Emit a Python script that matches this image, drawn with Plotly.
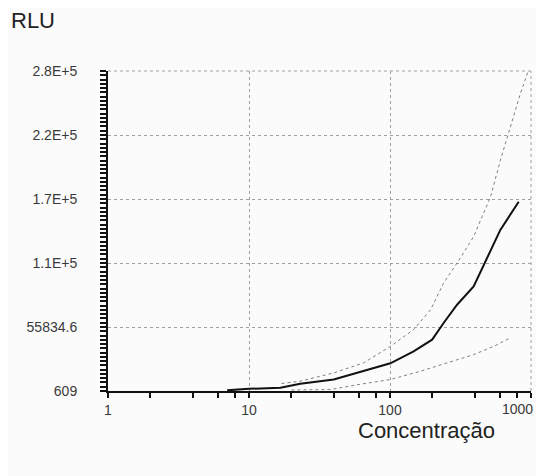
import plotly.graph_objects as go

# values
conc_mid = [7, 10, 16.7, 23.1, 39.9, 65.1, 100.6, 147, 199, 240, 299, 392, 488, 606, 818]
rlu_mid = [1200, 2500, 3360, 6800, 10500, 17650, 24500, 34860, 44930, 59310, 75060,
           90810, 115250, 139610, 163970]

conc_hi = [17, 23.1, 39.9, 65.1, 100.6, 147, 194, 240, 315, 392, 450, 517, 607, 695, 841, 948]
rlu_hi = [7060, 9040, 16270, 24880, 39170, 53540, 70760, 93740, 115250, 133840, 151060,
          168270, 199860, 224220, 257270, 275500]

conc_lo = [20, 38, 62, 100.6, 164, 254, 392, 545, 711]
rlu_lo = [1470, 1900, 6500, 10510, 17650, 24880, 32020, 39170, 46400]

y0 = 609
y_step = 55225.6
y_ticks = [y0 + i * y_step for i in range(6)]
y_labels = ['609', '55834.6', '1.1E+5', '1.7E+5', '2.2E+5', '2.8E+5']

x_ticks = [1, 10, 100, 1000]
x_labels = ['1', '10', '100', '1000']
x_minor = [m * 10 ** d for d in range(3) for m in (2, 4, 6, 8)]

fig = go.Figure()

for xs, ys in [(conc_hi, rlu_hi), (conc_lo, rlu_lo)]:
    fig.add_trace(go.Scatter(
        x=xs, y=ys, mode='lines',
        line=dict(color='#808080', width=1, dash='dot'),
        showlegend=False,
    ))

fig.add_trace(go.Scatter(
    x=conc_mid, y=rlu_mid, mode='lines',
    line=dict(color='#111111', width=2),
    showlegend=False,
))

grid = dict(showgrid=True, gridcolor='#a0a0a0', griddash='dot', gridwidth=1)
font = dict(family='Liberation Sans, Arial', size=14, color='#3a3a3a')
big = dict(family='Liberation Sans, Arial', size=22, color='#222222')

# the page body adds an 8px margin, so the figure is 8px smaller than the window
fig.update_layout(
    width=536, height=468,
    margin=dict(l=100, r=13, t=63, b=85),
    paper_bgcolor='#fbfbfb', plot_bgcolor='#fbfbfb',
    font=font,
    xaxis=dict(
        type='log', range=[0, 3], automargin=False,
        # last label is drawn as an annotation so it is not cut by the window edge
        tickmode='array', tickvals=x_ticks, ticktext=x_labels[:-1] + [''],
        ticks='outside', ticklen=5, tickwidth=2, tickcolor='#111111',
        showline=True, linecolor='#111111', linewidth=2,
        minor=dict(tickmode='array', tickvals=x_minor, ticks='outside',
                   ticklen=5, tickwidth=2, tickcolor='#111111', showgrid=False),
        zeroline=False, ticklabelstandoff=0, ticklabeloverflow='allow',
        **grid,
    ),
    yaxis=dict(
        range=[y_ticks[0], y_ticks[-1]], automargin=False,
        tickmode='array', tickvals=y_ticks, ticktext=y_labels,
        ticks='outside', ticklen=6, tickwidth=2, tickcolor='#111111',
        showline=True, linecolor='#111111', linewidth=2,
        minor=dict(dtick=y_step / 15, tick0=y0, ticks='outside',
                   ticklen=6, tickwidth=1.5, tickcolor='#111111', showgrid=False),
        zeroline=False, ticklabelstandoff=20, ticklabeloverflow='allow',
        **grid,
    ),
    shapes=[
        dict(type='line', xref='paper', yref='paper', x0=0, x1=1, y0=1, y1=1,
             line=dict(color='#a0a0a0', width=1, dash='dot')),
        dict(type='line', xref='paper', yref='paper', x0=1, x1=1, y0=0, y1=1,
             line=dict(color='#a0a0a0', width=1, dash='dot')),
    ],
    annotations=[
        dict(text='RLU', xref='paper', yref='paper', x=-0.231, y=1.158,
             xanchor='left', yanchor='middle', showarrow=False, borderpad=0,
             font=big),
        dict(text='Concentração', xref='paper', yref='paper', x=0.754, y=-0.122,
             xanchor='center', yanchor='middle', showarrow=False,
             font=big),
        dict(text=x_labels[-1], xref='paper', yref='paper', x=1.007, y=-0.056,
             xanchor='right', yanchor='middle', showarrow=False, borderpad=0,
             font=font),
    ],
)

fig.write_html('out.html')
